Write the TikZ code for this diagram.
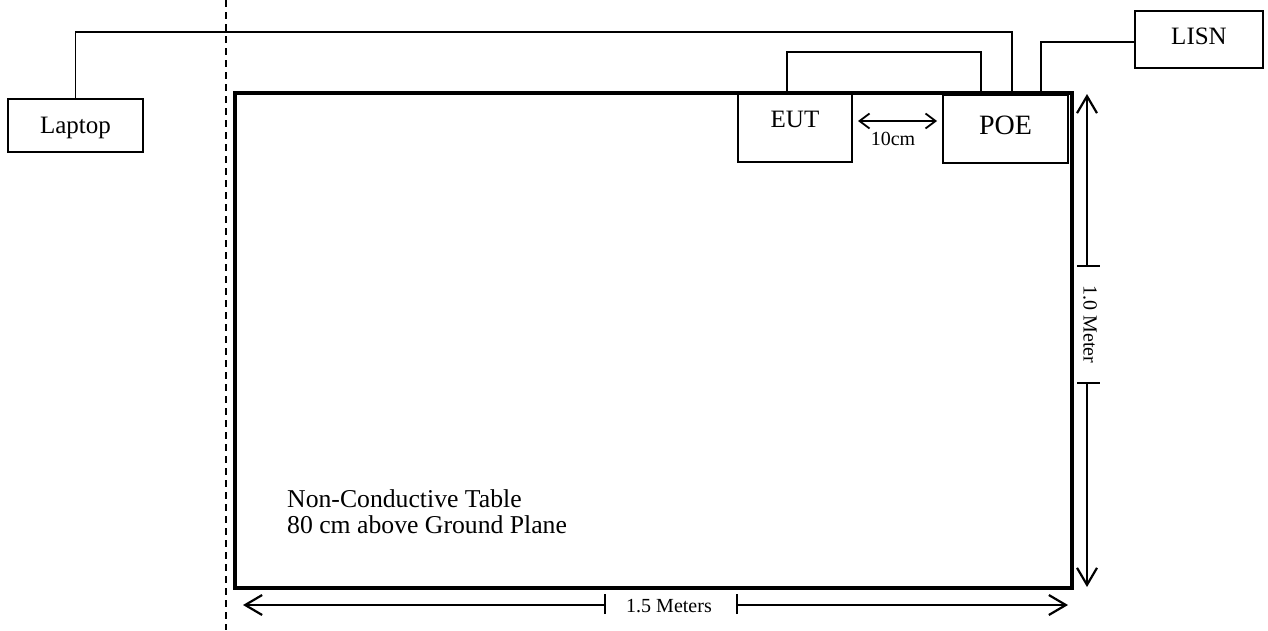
\documentclass[tikz,border=0pt]{standalone}
\usepackage{fontspec}
\setmainfont{Liberation Serif}
\usetikzlibrary{arrows.meta}
\begin{document}
\begin{tikzpicture}[x=1pt,y=-1pt,
  box/.style={draw,line width=1.8pt,inner sep=0pt,outer sep=0pt,anchor=north west},
  cable/.style={line width=1.8pt},
  dimline/.style={line width=1.4pt},
  bighead/.style={-{Straight Barb[length=17pt,width=20pt,line width=2.2pt]}},
  smallhead/.style={{Straight Barb[length=10pt,width=15pt,line width=1.8pt]}-{Straight Barb[length=10pt,width=15pt,line width=1.8pt]}},
  bigtxt/.style={font=\fontsize{25}{30}\selectfont,inner sep=0pt,anchor=base},
  smalltxt/.style={font=\fontsize{20}{24}\selectfont,inner sep=0pt,anchor=base}]
\useasboundingbox (0,0) rectangle (1268,630);
% table
\node[draw,line width=3.5pt,inner sep=0pt,outer sep=0pt,anchor=north west,minimum width=837pt,minimum height=495pt] (table) at (235,93) {};
% dashed line
\coordinate (dtop) at (226,0);
\coordinate (dbot) at (226,630);
\draw[line width=1.5pt,dash pattern=on 7pt off 5pt] (dtop) -- (dbot);
% boxes
\node[box,minimum width=135pt,minimum height=53pt] (laptop) at (8,99) {};
\node[bigtxt] (laptoptxt) at (75.5,133) {Laptop};
\node[box,minimum width=114pt,minimum height=69pt] (eut) at (738,93) {};
\node[bigtxt] (euttxt) at (795,127) {EUT};
\node[box,minimum width=125pt,minimum height=68pt] (poe) at (943,95) {};
\node[bigtxt,font=\fontsize{28}{32}\selectfont] (poetxt) at (1005.5,134) {POE};
\node[box,minimum width=128pt,minimum height=57pt] (lisn) at (1135,11) {};
\node[bigtxt] (lisntxt) at (1199,44) {LISN};
% cables
\coordinate (c1) at (1012,32);
\draw[cable] (laptop.north) |- (c1) -- (c1 |- poe.north);
\coordinate (e1) at (787,52);
\coordinate (e2) at (981,52);
\draw[cable] (e1 |- eut.north) -- (e1) -- (e2) -- (e2 |- poe.north);
\coordinate (l1) at (1041,42);
\draw[cable] (l1 |- poe.north) -- (l1) -- (lisn.west |- l1);
% 10 cm
\coordinate (ta) at (858,121);
\coordinate (tb) at (937,121);
\draw[dimline,smallhead] (ta) -- (tb);
\node[smalltxt] (tencm) at (893,145) {10cm};
% vertical dimension
\coordinate (vt) at (1087,266);
\coordinate (vb) at (1087,383);
\coordinate (vtip1) at (1087,94);
\coordinate (vtip2) at (1087,587);
\draw[dimline,bighead] (vt) -- (vtip1);
\draw[dimline,bighead] (vb) -- (vtip2);
\draw[dimline] ([xshift=-10pt]vt) -- ([xshift=13pt]vt);
\draw[dimline] ([xshift=-10pt]vb) -- ([xshift=13pt]vb);
\node[smalltxt,anchor=center,rotate=-90] (vtxt) at (1090,324.5) {1.0 Meter};
% horizontal dimension
\coordinate (hl) at (605,605);
\coordinate (hr) at (737,605);
\coordinate (htip1) at (243,605);
\coordinate (htip2) at (1068,605);
\draw[dimline,bighead] (hl) -- (htip1);
\draw[dimline,bighead] (hr) -- (htip2);
\draw[dimline] ([yshift=-9pt]hl) -- ([yshift=11pt]hl);
\draw[dimline] ([yshift=-9pt]hr) -- ([yshift=11pt]hr);
\node[smalltxt] (htxt) at (669,612) {1.5 Meters};
% table text
\node[bigtxt,anchor=base west,font=\fontsize{25.7}{30}\selectfont] (t1) at (287,507) {Non-Conductive Table};
\node[bigtxt,anchor=base west,font=\fontsize{25.7}{30}\selectfont] (t2) at (287,533) {80 cm above Ground Plane};
\end{tikzpicture}
\end{document}
